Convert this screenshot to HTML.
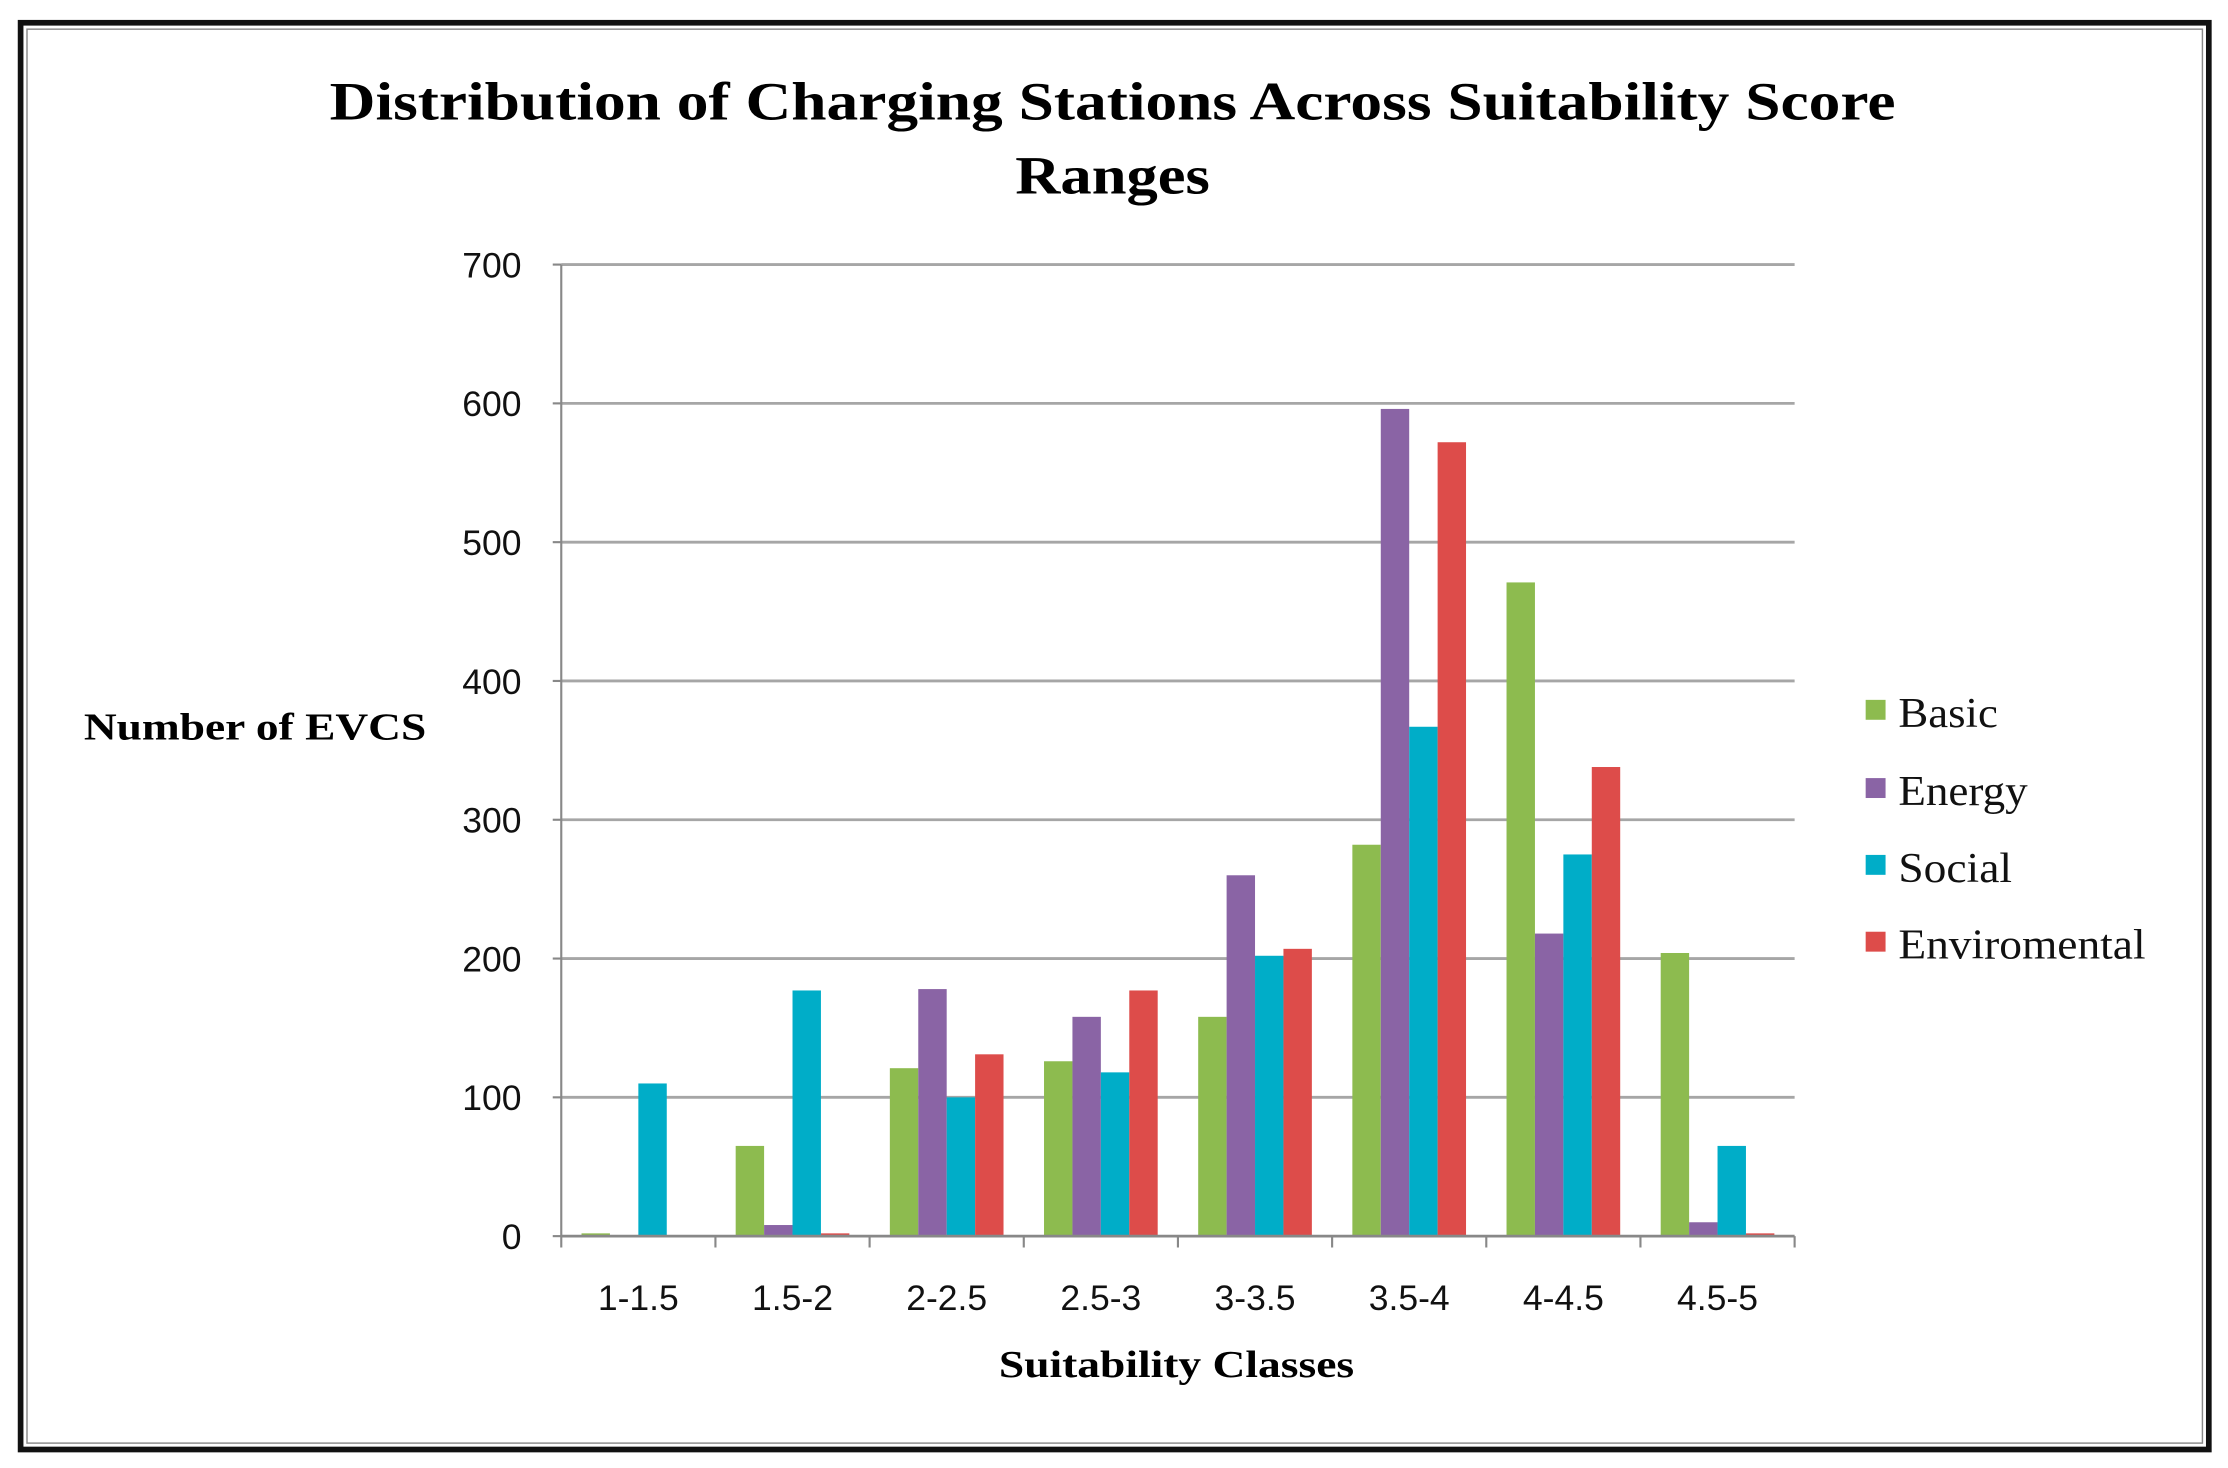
<!DOCTYPE html>
<html><head><meta charset="utf-8"><style>
html,body{margin:0;padding:0;background:#fff;}
svg{display:block;}
</style></head><body>
<svg id="chart" width="2228" height="1468" viewBox="0 0 1568 1032" preserveAspectRatio="none" xmlns="http://www.w3.org/2000/svg">
<rect x="0" y="0" width="1568" height="1032" fill="#fff"/>
<rect x="14.5" y="16" width="1540" height="1003" fill="none" stroke="#111" stroke-width="4"/>
<rect x="19" y="20.5" width="1531" height="994" fill="none" stroke="#888" stroke-width="1"/>
<text x="783" y="84" text-anchor="middle" font-family="Liberation Serif, serif" font-weight="bold" font-size="38" textLength="1102" lengthAdjust="spacingAndGlyphs">Distribution of Charging Stations Across Suitability Score</text>
<text x="783" y="136" text-anchor="middle" font-family="Liberation Serif, serif" font-weight="bold" font-size="38" textLength="137" lengthAdjust="spacingAndGlyphs">Ranges</text>
<text x="59" y="520" font-family="Liberation Serif, serif" font-weight="bold" font-size="27" textLength="241" lengthAdjust="spacingAndGlyphs">Number of EVCS</text>
<text x="828" y="968" text-anchor="middle" font-family="Liberation Serif, serif" font-weight="bold" font-size="27" textLength="250" lengthAdjust="spacingAndGlyphs">Suitability  Classes</text>
<g id="grid"></g>
<g id="bars"></g>
<g id="axes"></g>
<g id="legend"></g>
</svg>
<script>
const categories = ["1-1.5","1.5-2","2-2.5","2.5-3","3-3.5","3.5-4","4-4.5","4.5-5"];
const seriesNames = ["Basic","Energy","Social","Enviromental"];
const basicValues = [2,65,121,126,158,282,471,204];
const energyValues = [0,8,178,158,260,596,218,10];
const socialValues = [110,177,100,118,202,367,275,65];
const enviromentalValues = [0,2,131,177,207,572,338,2];
const yTicks = [0,100,200,300,400,500,600,700];

const colors = ["#8DBB4F","#8A64A5","#00ADC8","#DD4C4A"];
const allSeries = [basicValues, energyValues, socialValues, enviromentalValues];
const NS = "http://www.w3.org/2000/svg";
const X0 = 395, X1 = 1263, Y0 = 869, Y1 = 186, YMAX = 700;
const yScale = v => Y0 - (v / YMAX) * (Y0 - Y1);
const groupW = (X1 - X0) / categories.length;
const barW = 20;
const xBand = i => X0 + i * groupW;
function mk(tag, attrs, parent) {
  const e = document.createElementNS(NS, tag);
  for (const k in attrs) e.setAttribute(k, attrs[k]);
  parent.appendChild(e);
  return e;
}
const grid = document.getElementById("grid");
const bars = document.getElementById("bars");
const axes = document.getElementById("axes");
const legend = document.getElementById("legend");

yTicks.forEach(t => {
  const y = yScale(t);
  if (t > 0) {
    const l = mk("line", {x1: X0, x2: X1, y1: y, y2: y, stroke: "#A6A6A6", "stroke-width": 2}, grid);
    
    
  }
  const tx = mk("text", {x: 367, y: y + 9, "text-anchor": "end", "font-family": "Liberation Sans, sans-serif", "font-size": 25, fill: "#111"}, axes);
  tx.textContent = t;
  
  
  const tk = mk("line", {x1: X0 - 6, x2: X0, y1: y, y2: y, stroke: "#888", "stroke-width": 1.5}, axes);
  
  
});

const yAxis = mk("line", {x1: X0, x2: X0, y1: Y1, y2: Y0, stroke: "#888", "stroke-width": 1.5}, axes);



allSeries.forEach((vals, s) => {
  vals.forEach((v, i) => {
    const x = xBand(i) + (groupW - 4 * barW) / 2 + s * barW;
    const y = yScale(v);
    const r = mk("rect", {x: x, y: y, width: barW, height: Math.max(0, Y0 - y), fill: colors[s]}, bars);
    
    
  });
});

const xAxis = mk("line", {x1: X0, x2: X1, y1: Y0, y2: Y0, stroke: "#888", "stroke-width": 2}, axes);


for (let i = 0; i <= categories.length; i++) {
  const tk = mk("line", {x1: xBand(i), x2: xBand(i), y1: Y0, y2: Y0 + 8, stroke: "#888", "stroke-width": 1.5}, axes);
  
  
}
categories.forEach((c, i) => {
  const tx = mk("text", {x: xBand(i) + groupW / 2, y: 921, "text-anchor": "middle", "font-family": "Liberation Sans, sans-serif", "font-size": 25, fill: "#111"}, axes);
  tx.textContent = c;
  
  
});

const legendY = [501, 556, 610, 664];
const legendLen = [70, 91, 80, 174];
seriesNames.forEach((n, s) => {
  const g = mk("g", {}, legend);
  
  
  mk("rect", {x: 1313, y: legendY[s] - 9, width: 14, height: 14, fill: colors[s]}, g);
  const t = mk("text", {x: 1336, y: legendY[s] + 10, "font-family": "Liberation Serif, serif", "font-size": 30, fill: "#111", textLength: legendLen[s], lengthAdjust: "spacingAndGlyphs"}, g);
  t.textContent = n;
});
</script>
</body></html>
